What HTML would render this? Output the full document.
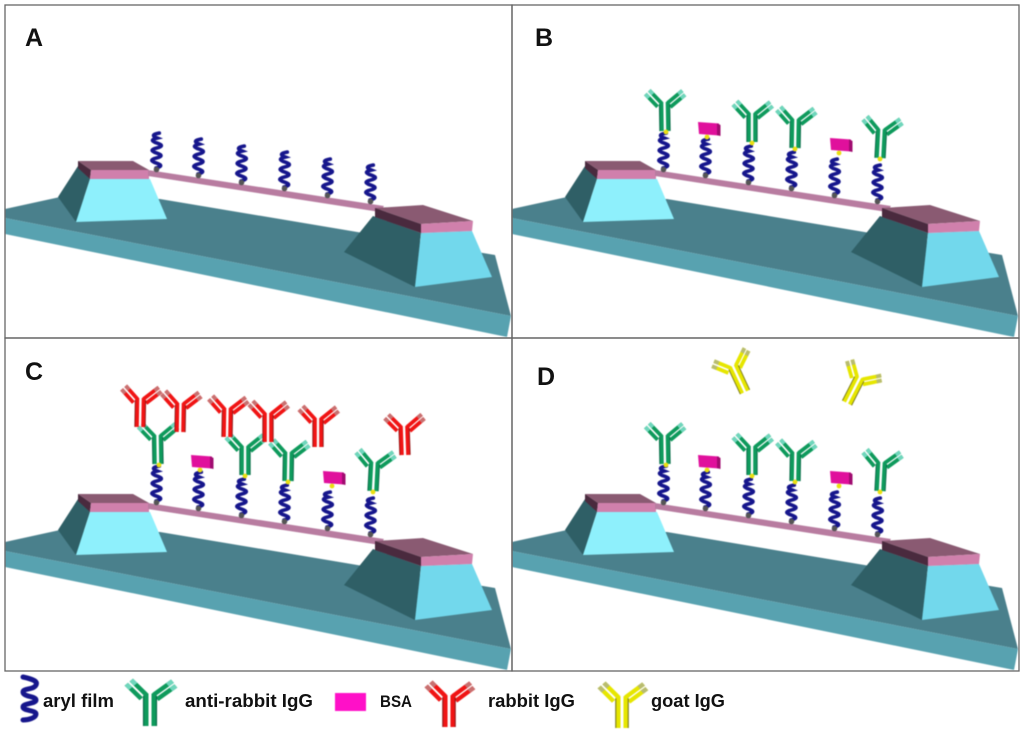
<!DOCTYPE html>
<html><head><meta charset="utf-8"><style>
html,body{margin:0;padding:0;background:#fff}
svg{display:block}
text{font-family:"Liberation Sans",sans-serif;font-weight:bold;fill:#111}
.art{filter:blur(.4px)}
.g{--m:#0e9a5c;--t:#6fd6bc;--d:#0a6a48}
.r{--m:#f01414;--t:#c87070;--d:#901818}
.y{--m:#e6e600;--t:#b8bc70;--d:#77771a}
</style></head><body>
<svg width="1024" height="733" viewBox="0 0 1024 733" xmlns="http://www.w3.org/2000/svg">
<defs>
<g id="coil">
<path transform="rotate(2)" d="M0 -1 Q9 -3.500 0 -6 T0 -11 T0 -16 T0 -21 T0 -26 T0 -31 Q-8 -34 2 -36" fill="none" stroke="#16168c" stroke-width="3.700" stroke-linecap="round"/>
<circle cx="0.500" cy="0.500" r="2.800" fill="#555"/>
</g>
<g id="ab" fill="none" stroke-linecap="butt">
<path d="M-3.200 0V-29M3.200 0V-29" stroke="var(--m)" stroke-width="4"/>
<path d="M-3 -28L-15 -41M3 -28L18 -40M-7 -24.300L-19 -37.300M5.700 -23.800L20.700 -35.800" stroke="var(--m)" stroke-width="3.800"/>
<path d="M-11.500 -37.200L-15 -41M14 -36.800L18 -40M-15.500 -33.500L-19 -37.300M16.700 -32.600L20.700 -35.800" stroke="var(--t)" stroke-width="3.800"/>
<path d="M-5.200 0V-27M5.200 0V-27" stroke="var(--d)" stroke-width="0.900"/>
</g>
<g id="bsa">
<path d="M0 0L21 1.500V13.500L1 12Z" fill="#e0109c"/>
<path d="M19 1.300L22.500 3V14L19 13.300Z" fill="#a00c70"/>
<circle cx="9" cy="15" r="2.400" fill="#eadf10"/>
</g>
<g id="dot"><circle r="2.400" fill="#eadf10"/></g>
<g id="scene">
<polygon points="5,209 60,197 160,199 495,255 511,316 5,218" fill="#4a808c"/>
<polygon points="5,218 511,316 507,337 5,234" fill="#58a2b0"/>
<polygon points="78,166 90,179 76,222 58,197" fill="#2f5f66"/>
<polygon points="90,179 150,179 167,219 76,222" fill="#8ef0fc"/>
<polygon points="78,161 133,161 149,170 91,170" fill="#8a5a72"/>
<polygon points="78,161 91,170 90,179 78,168" fill="#4a2a3e"/>
<polygon points="91,170 149,170 149,179 90,179" fill="#d080ac"/>
<polygon points="148,170 384,206 380,212 148,176" fill="#b87ca0"/>
<polygon points="373,216 421,233 415,287 344,252" fill="#2f5f66"/>
<polygon points="421,233 472,231 492,277 415,287" fill="#72d8ec"/>
<polygon points="375,208 423,205 473,221 421,224" fill="#8a5a72"/>
<polygon points="375,208 421,224 421,233 375,217" fill="#4a2a3e"/>
<polygon points="421,224 473,221 472,231 421,233" fill="#d080ac"/>
<use href="#coil" x="156" y="169"/>
<use href="#coil" x="198" y="175"/>
<use href="#coil" x="241" y="182"/>
<use href="#coil" x="284" y="188"/>
<use href="#coil" x="327" y="195"/>
<use href="#coil" x="370" y="201"/>
</g>
<g id="greens" class="g">
<use href="#ab" transform="translate(158,131) rotate(-1)"/>
<use href="#ab" transform="translate(245,142) rotate(0)"/>
<use href="#ab" transform="translate(288,148) rotate(1)"/>
<use href="#ab" transform="translate(373,158) rotate(3)"/>
<use href="#bsa" x="191" y="122"/>
<use href="#bsa" x="323" y="138"/>
<use href="#dot" x="159" y="132"/>
<use href="#dot" x="245" y="143"/>
<use href="#dot" x="288" y="149"/>
<use href="#dot" x="373" y="159"/>
</g>
</defs>

<g class="art">
<use href="#scene"/>
<use href="#scene" x="507"/>
<use href="#scene" y="333"/>
<use href="#scene" x="507" y="333"/>

<use href="#greens" x="507"/>
<use href="#greens" y="333"/>
<use href="#greens" x="507" y="333"/>

<g class="r">
<use href="#ab" transform="translate(140,427) rotate(1)"/>
<use href="#ab" transform="translate(180,432) rotate(1)"/>
<use href="#ab" transform="translate(227,437) rotate(1)"/>
<use href="#ab" transform="translate(268,442) rotate(0)"/>
<use href="#ab" transform="translate(318,447) rotate(0)"/>
<use href="#ab" transform="translate(405,455) rotate(-2)"/>
</g>
<g class="y">
<use href="#ab" transform="translate(745,392) rotate(-25)"/>
<use href="#ab" transform="translate(847,403) rotate(27)"/>
</g>

<path d="M23 677 C32 679 38 681 36 685 C34 690 23 688 23 692 C23 697 36 696 36 700 C36 704 23 703 23 707 C23 711 36 710 36 714 C36 718 28 720 23 720" fill="none" stroke="#16168c" stroke-width="5" stroke-linecap="round"/>
<g class="g"><use href="#ab" transform="translate(150,726) scale(1.250,1.120)"/></g>
<rect x="335" y="693" width="31" height="18" fill="#ff10c8"/>
<g class="r"><use href="#ab" transform="translate(449,727) scale(1.200,1.100)"/></g>
<g class="y"><use href="#ab" transform="translate(622,728) scale(1.200,1.100)"/></g>
</g>

<g fill="none" stroke="#666" stroke-width="1.300">
<rect x="5" y="5" width="507" height="333"/>
<rect x="512" y="5" width="507" height="333"/>
<rect x="5" y="338" width="507" height="333"/>
<rect x="512" y="338" width="507" height="333"/>
</g>

<text x="25" y="46" font-size="25">A</text>
<text x="535" y="46" font-size="25">B</text>
<text x="25" y="380" font-size="25">C</text>
<text x="537" y="385" font-size="25">D</text>

<text x="43" y="707" font-size="18" textLength="71" lengthAdjust="spacingAndGlyphs">aryl film</text>
<text x="185" y="707" font-size="18" textLength="128" lengthAdjust="spacingAndGlyphs">anti-rabbit IgG</text>
<text x="380" y="707" font-size="17" textLength="32" lengthAdjust="spacingAndGlyphs">BSA</text>
<text x="488" y="707" font-size="18" textLength="87" lengthAdjust="spacingAndGlyphs">rabbit IgG</text>
<text x="651" y="707" font-size="18" textLength="74" lengthAdjust="spacingAndGlyphs">goat IgG</text>
</svg>
</body></html>
